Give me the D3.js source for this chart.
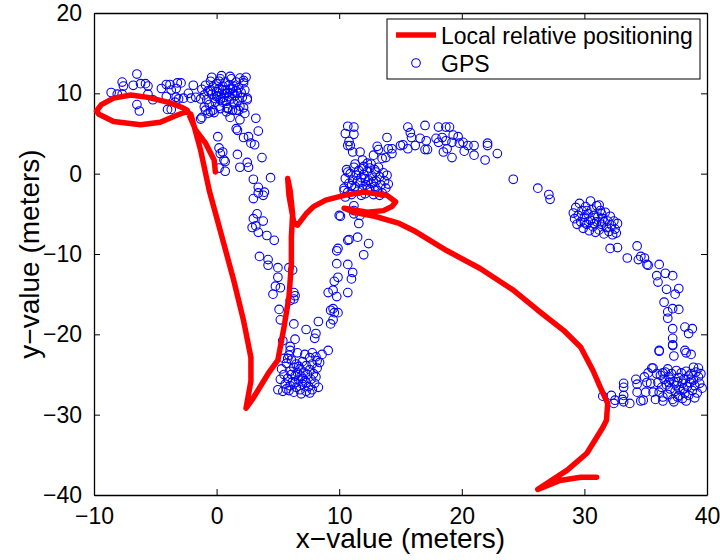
<!DOCTYPE html>
<html>
<head>
<meta charset="utf-8">
<script src="https://cdn.jsdelivr.net/npm/d3@7"></script>
<style>
  body { margin: 0; background: #fff; }
  text { font-family: "Liberation Sans", Arial, Helvetica, sans-serif; }
</style>
</head>
<body>
<div id="chart"></div>
<script>
// Local relative positioning vs GPS, x/y in meters

const xTicks = [-10, 0, 10, 20, 30, 40];
const yTicks = [-40, -30, -20, -10, 0, 10, 20];
const seriesNames = ["Local relative positioning", "GPS"];

// red trajectory, in drawing order [x, y]
const localPath = [
  [-0.1, 0.2], [-0.2, 1.7], [-0.9, 3.8], [-1.7, 5.4], [-2.4, 7.9], [-2.9, 8.3],
  [-4.0, 8.9], [-5.6, 9.5], [-7.0, 9.8], [-8.4, 9.4], [-9.4, 8.6], [-9.8, 7.8],
  [-9.6, 7.4], [-8.4, 6.5], [-6.2, 6.1], [-4.6, 6.4], [-3.2, 7.3], [-2.5, 7.7],
  [-2.1, 7.4], [-1.3, 2.9], [-0.6, -2.1], [0.3, -7.1], [1.4, -13.3], [2.2, -18.3],
  [2.8, -22.9], [2.8, -25.8], [2.4, -29.2], [3.0, -27.9], [4.2, -24.9], [5.0, -23.2],
  [5.5, -19.1], [5.9, -15.4], [6.1, -11.2], [6.1, -7.9], [6.2, -5.0], [6.0, -2.1],
  [5.8, -0.6], [5.9, -2.7], [6.3, -6.1], [6.6, -6.4], [7.3, -5.0], [7.9, -4.1],
  [8.9, -3.3], [10.4, -2.7], [12.0, -2.3], [13.9, -2.7], [14.6, -3.5], [14.3, -4.1],
  [13.6, -4.6], [12.3, -4.8], [10.4, -4.3], [11.2, -4.8], [12.9, -5.3], [14.9, -6.2],
  [16.1, -7.1], [18.8, -9.6], [21.5, -11.8], [24.2, -14.5], [26.2, -17.0], [28.3, -19.5],
  [29.7, -21.6], [30.7, -24.5], [31.3, -26.6], [31.9, -28.6], [31.8, -30.7], [31.5, -31.6],
  [30.2, -34.8], [28.6, -36.9], [26.2, -39.3], [28.0, -38.2], [29.7, -37.8], [31.0, -37.8]
];

// GPS fixes [x, y]
const gpsX = [];
const gpsY = [];
const gpsPoints = [
  // arc at top left
  [-8.6, 10.1], [-8.1, 9.9], [-7.7, 9.9], [-7.7, 11.4], [-7.6, 10.9], [-6.8, 11.0],
  [-6.5, 12.4], [-6.2, 11.2], [-5.8, 11.2], [-5.6, 10.9], [-5.6, 9.9], [-5.2, 9.2],
  [-6.5, 8.6], [-6.3, 7.8], [-4.5, 10.6], [-4.1, 11.1], [-4.1, 9.6], [-3.8, 11.1],
  [-3.7, 10.4], [-3.3, 10.6], [-3.2, 11.3], [-2.9, 11.3], [-3.3, 9.5], [-3.1, 9.3],
  [-3.4, 8.9], [-4.0, 8.0], [-3.7, 8.0], [-2.7, 9.4], [-2.3, 10.0], [-1.9, 11.0],
  [-2.1, 9.4], [-1.7, 9.5],
  // cluster near (0, 10)
  [-1.2, 10.5], [-1.0, 9.8], [-0.9, 11.0], [-0.8, 9.2], [-0.7, 10.3], [-0.6, 8.6],
  [-0.5, 11.5], [-0.4, 9.9], [-0.3, 10.8], [-0.2, 9.4], [-0.1, 8.9], [0.0, 10.2],
  [0.0, 11.2], [0.1, 9.7], [0.2, 10.6], [0.2, 8.4], [0.3, 9.2], [0.3, 11.8],
  [0.4, 10.0], [0.5, 10.9], [0.5, 8.9], [0.6, 9.5], [0.7, 10.4], [0.7, 11.4],
  [0.8, 9.0], [0.9, 10.1], [0.9, 8.2], [1.0, 11.0], [1.0, 9.6], [1.1, 10.5],
  [1.2, 9.3], [1.2, 11.8], [1.3, 10.0], [1.4, 8.7], [1.4, 10.9], [1.5, 9.7],
  [1.6, 11.4], [1.6, 10.3], [1.7, 9.1], [1.8, 10.7], [1.9, 11.9], [2.0, 10.1],
  [2.1, 9.5], [2.2, 11.3], [2.3, 10.4], [2.4, 12.0], [1.9, 8.4], [2.5, 9.2],
  [-1.0, 8.3], [-0.4, 12.0], [0.4, 12.2], [1.1, 12.1], [-1.3, 9.3], [0.8, 7.7],
  [1.6, 7.9], [2.2, 8.2], [-0.2, 7.6], [0.0, 9.6], [0.5, 10.4], [1.3, 10.6],
  [0.8, 10.0], [-0.5, 10.3], [1.7, 10.0], [0.2, 11.5], [-1.3, 6.8], [-0.7, 7.5],
  [-0.3, 7.9], [0.3, 8.1], [0.9, 8.1], [1.3, 7.9], [1.8, 7.9], [2.5, 9.4], [2.2, 11.6],
  // going down to the (7, -25) cluster
  [-1.2, 7.0], [-0.9, 7.9], [-0.5, 7.7], [0.1, 4.6], [0.2, 3.2], [0.3, 2.5],
  [0.5, 2.7], [0.6, 1.7], [0.7, 1.5], [0.2, 0.7], [0.7, 0.3], [1.1, 7.0],
  [1.9, 6.7], [2.3, 7.5], [3.2, 6.9], [1.6, 5.6], [1.7, 5.4], [2.2, 4.5],
  [2.6, 4.6], [2.8, 3.8], [3.1, 3.6], [3.4, 5.3], [1.7, 2.4], [1.9, 0.8],
  [2.5, 1.4], [2.6, 0.8], [3.7, 2.0], [3.0, -0.7], [4.4, -0.5], [3.4, -1.7],
  [3.4, -2.4], [3.0, -3.1], [3.9, -2.3], [3.8, -2.7], [3.3, -5.0], [3.0, -5.6],
  [3.2, -6.5], [2.9, -6.7], [3.8, -5.9], [3.4, -7.3], [4.1, -7.7], [4.7, -8.3],
  [3.5, -10.3], [4.2, -10.7], [4.2, -11.4], [5.0, -11.7], [5.9, -11.7], [6.2, -12.0],
  [5.0, -12.9], [4.8, -14.0], [5.2, -14.2], [4.6, -15.0], [6.3, -14.8], [6.4, -15.2],
  [6.3, -15.6], [6.0, -15.8], [5.1, -16.9], [5.2, -18.2], [6.3, -18.7], [7.3, -19.4],
  [8.1, -19.9], [8.3, -18.4], [8.0, -20.5], [6.4, -20.6], [5.4, -20.8], [6.0, -21.5],
  [6.0, -22.0], [5.8, -23.0], [9.1, -22.0], [8.6, -22.5], [7.8, -22.3], [8.2, -23.3],
  // cluster near (7, -25)
  [5.0, -26.9], [5.2, -25.6], [5.3, -24.3], [5.4, -27.1], [5.5, -25.0], [5.6, -26.2],
  [5.7, -23.6], [5.8, -25.5], [5.9, -27.0], [6.0, -24.6], [6.0, -26.4], [6.1, -23.2],
  [6.2, -25.9], [6.3, -24.1], [6.3, -27.2], [6.4, -25.2], [6.5, -26.6], [6.5, -23.7],
  [6.6, -24.8], [6.7, -25.7], [6.8, -26.9], [6.8, -24.3], [6.9, -25.2], [7.0, -23.4],
  [7.0, -26.2], [7.1, -24.7], [7.2, -25.8], [7.3, -27.1], [7.3, -23.9], [7.4, -25.0],
  [7.5, -26.5], [7.6, -24.4], [7.6, -22.9], [7.7, -25.6], [7.8, -26.9], [7.8, -23.7],
  [7.9, -24.9], [8.0, -26.1], [8.1, -22.8], [8.1, -25.3], [8.2, -24.2], [8.3, -26.6],
  [8.4, -23.5], [5.9, -22.6], [6.6, -22.3], [7.2, -22.5], [5.5, -23.0], [6.9, -27.4],
  [7.6, -27.3], [6.1, -25.0], [6.7, -24.0], [7.3, -26.0], [6.4, -26.0], [7.0, -25.5],
  [5.7, -26.8],
  // climbing to the (12, -1) cluster
  [9.8, -11.2], [10.7, -11.3], [11.1, -12.3], [9.9, -12.9], [9.6, -13.4], [11.0, -13.1],
  [9.1, -14.8], [9.5, -14.5], [9.8, -15.3], [10.7, -14.8], [9.3, -17.0], [9.6, -17.3],
  [9.5, -16.8], [9.9, -17.3], [9.5, -18.2], [9.3, -18.7], [9.8, -9.6], [10.0, -5.2],
  [10.1, -5.3], [9.9, -9.3], [10.8, -8.2], [11.5, -7.9], [12.4, -8.7], [12.0, -10.1],
  [11.2, -4.6], [11.2, -5.0], [11.7, -5.2], [11.6, -6.2], [10.5, -2.9], [10.4, -2.1],
  [11.2, -4.0], [10.7, -8.3],
  // cluster near (12, -1)
  [10.4, -1.8], [10.5, -0.6], [10.6, 0.5], [10.7, -2.3], [10.8, -1.2], [10.9, 0.0],
  [11.0, -2.6], [11.1, -0.8], [11.2, 0.8], [11.3, -1.6], [11.4, -0.2], [11.5, -2.2],
  [11.6, 0.4], [11.7, -1.1], [11.8, -0.5], [11.9, -1.9], [12.0, 0.9], [12.0, -0.1],
  [12.1, -2.5], [12.2, -1.4], [12.3, 0.3], [12.4, -0.8], [12.5, -2.0], [12.5, 0.7],
  [12.6, -1.2], [12.7, -0.3], [12.8, -2.6], [12.9, -1.6], [13.0, 0.2], [13.0, -0.9],
  [13.1, -2.1], [13.2, 0.8], [13.3, -0.4], [13.4, -1.4], [13.5, -2.4], [13.6, 0.1],
  [13.7, -0.9], [13.8, -1.8], [13.9, -0.2], [14.0, -1.3], [11.3, 1.2], [12.6, 1.2],
  [11.0, -1.5], [11.8, -2.7], [12.3, -1.9], [11.5, -0.9], [12.9, 0.5], [10.7, 0.2],
  [12.1, -0.6], [13.3, -2.7], [11.9, 0.6], [12.8, -1.0],
  // arm above it
  [10.7, 5.9], [11.2, 5.8], [10.5, 5.0], [11.2, 4.9], [10.8, 4.0], [10.7, 3.5],
  [10.9, 3.5], [11.1, 2.7], [11.7, 2.7], [11.9, 1.7], [12.3, 1.3], [12.8, 2.3],
  [13.1, 3.4], [13.2, 3.0], [13.9, 4.5], [13.5, 1.9], [13.8, 2.0], [14.0, 3.1],
  [14.3, 2.5], [14.3, 3.1],
  // big arc over the top
  [15.0, 3.5], [15.2, 3.6], [15.6, 5.8], [15.8, 5.1], [15.9, 4.5], [15.6, 3.1],
  [16.2, 3.5], [16.6, 4.4], [17.0, 6.0], [17.1, 4.1], [17.0, 3.0], [17.2, 3.0],
  [17.9, 4.4], [18.1, 5.8], [18.7, 5.8], [19.0, 5.8], [18.1, 3.9], [18.4, 4.5],
  [18.7, 4.1], [18.5, 2.7], [18.8, 3.1], [19.2, 2.0], [19.2, 3.9], [19.3, 4.8],
  [19.7, 4.6], [19.8, 3.8], [20.1, 3.9], [20.2, 2.8], [20.5, 3.5], [21.0, 3.5],
  [21.0, 2.3], [22.1, 3.8], [22.1, 3.5], [21.9, 1.7], [22.9, 2.5], [24.2, -0.7],
  [26.2, -1.8], [27.1, -2.6], [27.2, -3.2],
  // cluster near (31, -6)
  [29.1, -4.9], [29.2, -5.6], [29.3, -4.2], [29.4, -6.3], [29.5, -5.2], [29.6, -3.7],
  [29.7, -6.0], [29.8, -4.6], [29.9, -6.8], [30.0, -5.4], [30.1, -4.1], [30.2, -6.3],
  [30.3, -5.0], [30.4, -7.1], [30.5, -3.4], [30.5, -5.8], [30.6, -4.5], [30.7, -6.6],
  [30.8, -5.2], [30.9, -7.3], [31.0, -4.0], [31.0, -6.0], [31.1, -5.4], [31.2, -7.0],
  [31.3, -4.6], [31.4, -6.3], [31.5, -5.6], [31.6, -7.5], [31.7, -4.8], [31.8, -6.7],
  [31.9, -5.9], [32.0, -7.2], [32.1, -5.3], [32.2, -6.4], [32.3, -7.6], [32.4, -5.9],
  [32.5, -6.9], [32.6, -7.4], [32.7, -6.2], [30.2, -4.6], [31.2, -3.9], [30.8, -6.2],
  [31.6, -6.0], [30.0, -6.1], [31.4, -5.0],
  // right side going down
  [32.1, -9.3], [32.7, -9.2], [34.3, -9.0], [33.5, -10.5], [34.4, -10.7], [34.6, -10.3],
  [34.9, -10.5], [35.1, -11.3], [35.2, -11.4], [36.1, -11.3], [35.9, -12.7], [36.0, -13.5],
  [36.6, -12.4], [37.2, -12.7], [36.7, -14.4], [37.7, -14.3], [37.4, -15.0], [36.5, -16.0],
  [36.8, -17.2], [37.2, -16.8], [37.7, -16.9], [36.8, -18.0], [37.2, -19.3], [38.2, -19.1],
  [38.8, -19.3], [38.5, -19.9], [37.2, -20.5], [37.2, -21.4], [38.2, -22.0], [36.1, -22.0],
  // bottom right
  [36.1, -22.1], [37.2, -21.3], [37.3, -22.7], [38.3, -22.3], [38.7, -22.5], [35.5, -24.2],
  [35.6, -24.2], [35.2, -24.8], [35.9, -24.9], [34.9, -25.3], [36.4, -24.8], [34.2, -25.6],
  [35.1, -26.0], [35.4, -26.1], [34.3, -26.2], [33.2, -26.1], [33.2, -26.6], [34.3, -27.2],
  [35.0, -27.2], [35.6, -27.2], [34.6, -28.3], [34.8, -28.2], [35.8, -28.1], [31.5, -27.7],
  [32.2, -27.6], [32.5, -28.2], [33.1, -28.1], [32.4, -28.6], [33.2, -28.4], [33.7, -28.6],
  [33.2, -27.6],
  // cluster near (38, -26)
  [36.0, -26.0], [36.1, -27.2], [36.2, -25.1], [36.3, -26.6], [36.4, -27.8], [36.5, -25.6],
  [36.6, -24.7], [36.7, -26.3], [36.8, -27.5], [36.9, -25.3], [37.0, -26.8], [37.1, -24.9],
  [37.2, -28.1], [37.3, -25.9], [37.4, -27.1], [37.5, -24.5], [37.5, -26.4], [37.6, -27.8],
  [37.7, -25.4], [37.8, -26.9], [37.9, -24.8], [38.0, -26.1], [38.0, -28.0], [38.1, -25.6],
  [38.2, -27.3], [38.3, -24.6], [38.4, -26.5], [38.5, -25.2], [38.5, -27.6], [38.6, -26.0],
  [38.7, -24.9], [38.8, -27.0], [38.9, -25.7], [39.0, -26.4], [39.1, -24.7], [39.2, -27.3],
  [39.3, -25.3], [39.4, -26.1], [39.5, -24.9], [39.6, -26.7], [37.0, -25.6], [37.7, -27.6],
  [38.3, -28.3], [36.8, -24.3], [38.9, -24.1], [39.3, -24.2], [36.4, -28.3], [37.3, -28.4],
  [38.1, -26.8], [37.6, -25.9], [38.7, -25.6], [36.9, -26.0], [39.0, -27.9]
];
gpsPoints.forEach(p => { gpsX.push(p[0]); gpsY.push(p[1]); });

const width = 720;
const height = 560;
const margin = { top: 13, right: 13, bottom: 65, left: 94 };
const innerWidth = width - margin.left - margin.right;
const innerHeight = height - margin.top - margin.bottom;

const svg = d3.select("#chart")
  .append("svg")
  .attr("width", width)
  .attr("height", height);

const g = svg.append("g")
  .attr("transform", `translate(${margin.left},${margin.top})`);

const x = d3.scaleLinear().domain([-10, 40]).range([0, innerWidth]);
const y = d3.scaleLinear().domain([-40, 20]).range([innerHeight, 0]);

// clip so marks stay inside the box
g.append("clipPath").attr("id", "clip")
  .append("rect").attr("width", innerWidth).attr("height", innerHeight);

// axes, MATLAB style: ticks point inward, mirrored on top/right
const fmt = d3.format("d");
const xAxis = g.append("g")
  .attr("transform", `translate(0,${innerHeight})`)
  .call(d3.axisBottom(x).tickValues(xTicks).tickFormat(fmt).tickSizeInner(-6).tickSizeOuter(0).tickPadding(13));
const yAxis = g.append("g")
  .call(d3.axisLeft(y).tickValues(yTicks).tickFormat(fmt).tickSizeInner(-6).tickSizeOuter(0).tickPadding(12));
g.append("g")
  .call(d3.axisTop(x).tickValues(xTicks).tickFormat("").tickSizeInner(-6).tickSizeOuter(0));
g.append("g")
  .attr("transform", `translate(${innerWidth},0)`)
  .call(d3.axisRight(y).tickValues(yTicks).tickFormat("").tickSizeInner(-6).tickSizeOuter(0));

g.selectAll(".domain").attr("stroke", "#000").attr("stroke-width", 1.3);
g.selectAll(".tick line").attr("stroke", "#000").attr("stroke-width", 1);
xAxis.selectAll(".tick text").attr("font-size", "23px").attr("fill", "#000")
  .style("font-family", "Liberation Sans, Arial, sans-serif");
yAxis.selectAll(".tick text").attr("font-size", "23px").attr("fill", "#000")
  .style("font-family", "Liberation Sans, Arial, sans-serif");

// GPS points
g.append("g").attr("clip-path", "url(#clip)")
  .selectAll("circle")
  .data(gpsX.map((d, i) => [d, gpsY[i]]))
  .enter()
  .append("circle")
  .attr("cx", d => x(d[0]))
  .attr("cy", d => y(d[1]))
  .attr("r", 4.3)
  .attr("fill", "none")
  .attr("stroke", "#0000ff")
  .attr("stroke-width", 1.1);

// local relative positioning trajectory
const line = d3.line().x(d => x(d[0])).y(d => y(d[1]));
g.append("path")
  .datum(localPath)
  .attr("d", line)
  .attr("fill", "none")
  .attr("stroke", "#ff0000")
  .attr("stroke-width", 5.5)
  .attr("stroke-linejoin", "round")
  .attr("stroke-linecap", "round");

// axis labels
g.append("text")
  .attr("x", innerWidth / 2)
  .attr("y", innerHeight + 53)
  .attr("text-anchor", "middle")
  .attr("font-size", "28px")
  .text("x\u2212value (meters)");

g.append("text")
  .attr("transform", "rotate(-90)")
  .attr("x", -innerHeight / 2)
  .attr("y", -55)
  .attr("text-anchor", "middle")
  .attr("font-size", "28px")
  .text("y\u2212value (meters)");

// legend
const legend = svg.append("g").attr("transform", "translate(387,19)");
legend.append("rect")
  .attr("width", 313).attr("height", 60)
  .attr("fill", "#fff").attr("stroke", "#000").attr("stroke-width", 1);
legend.append("line")
  .attr("x1", 9).attr("x2", 49).attr("y1", 16).attr("y2", 16)
  .attr("stroke", "#ff0000").attr("stroke-width", 5.5);
legend.append("circle")
  .attr("cx", 29).attr("cy", 44).attr("r", 4.3)
  .attr("fill", "none").attr("stroke", "#0000ff").attr("stroke-width", 1.1);
legend.selectAll("text.lbl")
  .data(seriesNames)
  .enter()
  .append("text")
  .attr("class", "lbl")
  .attr("x", 54)
  .attr("y", (d, i) => 25 + i * 28)
  .attr("font-size", "23px")
  .text(d => d);
</script>
</body>
</html>
